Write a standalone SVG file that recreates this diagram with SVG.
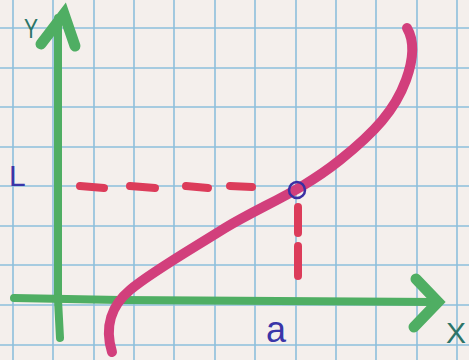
<svg xmlns="http://www.w3.org/2000/svg" width="469" height="360" viewBox="0 0 469 360">
<defs>
<style>
.grid line{stroke:#8dbfdc;stroke-width:1.6}
.axis{stroke:#4fae63;stroke-width:8;stroke-linecap:round;fill:none}
.head{stroke:#4fae63;stroke-width:11;stroke-linecap:round;fill:none}
.curve{stroke:#d23f7c;stroke-width:10;stroke-linecap:round;fill:none}
.dash{stroke:#dc3c5a;stroke-width:8;stroke-linecap:round;fill:none}
.lbl{font-family:"Liberation Sans",Arial,sans-serif}
</style>
</defs>
<rect width="469" height="360" fill="#f4efec"/>
<g class="grid">
<line x1="13" y1="0" x2="13" y2="360"/><line x1="53" y1="0" x2="53" y2="360"/><line x1="94" y1="0" x2="94" y2="360"/><line x1="134" y1="0" x2="134" y2="360"/><line x1="174" y1="0" x2="174" y2="360"/><line x1="215" y1="0" x2="215" y2="360"/><line x1="255" y1="0" x2="255" y2="360"/><line x1="296" y1="0" x2="296" y2="360"/><line x1="336" y1="0" x2="336" y2="360"/><line x1="376" y1="0" x2="376" y2="360"/><line x1="417" y1="0" x2="417" y2="360"/><line x1="457" y1="0" x2="457" y2="360"/>
<line x1="0" y1="28" x2="469" y2="28"/><line x1="0" y1="68" x2="469" y2="68"/><line x1="0" y1="107" x2="469" y2="107"/><line x1="0" y1="147" x2="469" y2="147"/><line x1="0" y1="186" x2="469" y2="186"/><line x1="0" y1="226" x2="469" y2="226"/><line x1="0" y1="265" x2="469" y2="265"/><line x1="0" y1="305" x2="469" y2="305"/><line x1="0" y1="345" x2="469" y2="345"/>
</g>
<g id="axes">
<path class="axis" d="M60,338 L58,300 L58,18"/>
<path class="head" d="M41,44 L64,14 L75,46"/>
<path class="axis" d="M14,298 L120,300 L436,302"/>
<path class="head" d="M416,279 L438,302 L414,327"/>
</g>
<g id="guides">
<path class="dash" d="M80,186 L104,188 M130,186 L155,188 M186,186 L208,188 M230,186 L252,187"/>
<path class="dash" d="M298,207 L298,233 M298,246 L298,276"/>
</g>
<g id="curve">
<path class="curve" d="M112,352 C104,326 112,305 130,290 C150,273 185,253 225,228 C265,204 300,192 340,160 C375,132 395,110 406,80 C414,58 414,40 407,28"/>
</g>
<g id="point">
<circle cx="297" cy="190" r="8" fill="none" stroke="#3b2fa3" stroke-width="2.5"/>
</g>
<g id="labels" class="lbl">
<text x="24" y="38" font-size="28" fill="#2c7468" transform="translate(24 38) scale(0.75 1) translate(-24 -38)">Y</text>
<text x="9" y="186" font-size="30" fill="#3a35a8">L</text>
<text x="266" y="342" font-size="36" fill="#3a35a8">a</text>
<text x="446" y="343" font-size="30" fill="#2c7468">X</text>
</g>
</svg>
